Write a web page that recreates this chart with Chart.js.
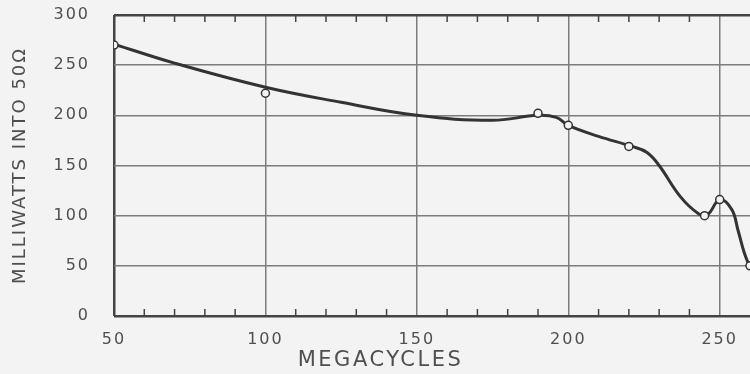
<!DOCTYPE html>
<html>
<head>
<meta charset="utf-8">
<script src="https://cdn.jsdelivr.net/npm/chart.js@4.4.0/dist/chart.umd.min.js"></script>
<style>
  html, body { margin: 0; padding: 0; background: #f3f3f3; }
  canvas { display: block; }
</style>
</head>
<body>
<canvas id="powerChart" width="750" height="374"></canvas>
<script>
// measured points (circles)
const measuredMc = [50, 100, 190, 200, 220, 245, 250, 260];
const measuredMw = [270, 222, 202, 190, 169, 100, 116, 50];

// faired curve
const curveMc = [50, 70, 100, 125, 150, 175, 190, 196, 200, 210, 221, 226, 230, 237, 243, 246, 250, 254, 256, 258, 260];
const curveMw = [271, 252, 228, 213, 200, 195, 200, 198, 190, 179, 169, 163, 150, 119, 102, 101, 116, 106, 86, 64, 48];

const xLabels = [50, 100, 150, 200, 250];
const yLabels = [0, 50, 100, 150, 200, 250, 300];

const inkColor = '#333333';
const textColor = '#4f4f4f';
const gridColor = '#7c7c7c';
const frameColor = '#444444';

function toPoints(xs, ys) {
    return xs.map(function (x, i) { return { x: x, y: ys[i] }; });
}

// letter spacing is part of canvas state, so put it back before layout and draw
const spacingPlugin = {
    id: 'spacing',
    beforeUpdate(chart) { chart.ctx.letterSpacing = '2px'; },
    beforeDraw(chart) { chart.ctx.letterSpacing = '2px'; }
};

// small inward ticks every 10 Mc on top and bottom edges
const minorTickPlugin = {
    id: 'minorTicks',
    beforeDatasetsDraw(chart) {
        const ctx = chart.ctx;
        const area = chart.chartArea;
        const x = chart.scales.x;
        ctx.save();
        ctx.strokeStyle = frameColor;
        ctx.lineWidth = 1.5;
        for (let v = x.min + 10; v < x.max; v += 10) {
            if (v % 50 === 0) continue;
            const px = x.getPixelForValue(v);
            ctx.beginPath();
            ctx.moveTo(px, area.top);
            ctx.lineTo(px, area.top + 7);
            ctx.moveTo(px, area.bottom);
            ctx.lineTo(px, area.bottom - 7);
            ctx.stroke();
        }
        ctx.restore();
    }
};

// x title sits off-centre in the original, under ~138 Mc
const xTitlePlugin = {
    id: 'xTitle',
    afterDraw(chart) {
        const ctx = chart.ctx;
        const x = chart.scales.x;
        ctx.save();
        ctx.font = '21px "DejaVu Sans"';
        ctx.letterSpacing = '2.5px';
        ctx.fillStyle = textColor;
        ctx.textAlign = 'center';
        ctx.textBaseline = 'middle';
        ctx.fillText('MEGACYCLES', x.getPixelForValue(138), 361);
        ctx.restore();
    }
};

const config = {
    type: 'scatter',
    data: {
        datasets: [
            {
                label: 'measured',
                data: toPoints(measuredMc, measuredMw),
                showLine: false,
                pointRadius: 4,
                pointBorderWidth: 1.5,
                pointBorderColor: inkColor,
                pointBackgroundColor: '#f3f3f3',
                order: 0
            },
            {
                label: 'curve',
                data: toPoints(curveMc, curveMw),
                showLine: true,
                borderColor: inkColor,
                borderWidth: 3,
                pointRadius: 0,
                tension: 0.4,
                order: 1
            }
        ]
    },
    options: {
        responsive: false,
        animation: false,
        events: [],
        layout: { autoPadding: false, padding: { top: 15, right: 0, left: 0, bottom: 0 } },
        plugins: {
            legend: { display: false },
            tooltip: { enabled: false }
        },
        scales: {
            x: {
                type: 'linear',
                min: 50,
                max: 260,
                afterBuildTicks: function (scale) {
                    scale.ticks = xLabels.map(function (v) { return { value: v }; });
                },
                afterFit: function (scale) {
                    scale.height = 58;
                    scale.paddingLeft = 0;
                    scale.paddingRight = 0;
                },
                border: { display: false },
                grid: {
                    drawTicks: false,
                    color: function (c) { return c.tick && c.tick.value === 50 ? frameColor : gridColor; },
                    lineWidth: function (c) { return c.tick && c.tick.value === 50 ? 2.5 : 1.5; }
                },
                ticks: {
                    autoSkip: false,
                    maxRotation: 0,
                    padding: 14,
                    color: textColor,
                    font: { family: 'DejaVu Sans', size: 16 }
                }
            },
            y: {
                min: 0,
                max: 300,
                afterBuildTicks: function (scale) {
                    scale.ticks = yLabels.map(function (v) { return { value: v }; });
                },
                afterFit: function (scale) {
                    scale.width = 114;
                    scale.paddingTop = 0;
                    scale.paddingBottom = 0;
                },
                border: { display: false },
                grid: {
                    drawTicks: false,
                    color: function (c) {
                        const v = c.tick && c.tick.value;
                        return v === 0 || v === 300 ? frameColor : gridColor;
                    },
                    lineWidth: function (c) {
                        const v = c.tick && c.tick.value;
                        return v === 0 || v === 300 ? 2.5 : 1.5;
                    }
                },
                ticks: {
                    padding: 24,
                    color: textColor,
                    font: { family: 'DejaVu Sans', size: 16 }
                },
                title: {
                    display: true,
                    text: 'MILLIWATTS INTO 50Ω',
                    color: textColor,
                    font: { family: 'DejaVu Sans', size: 18 },
                    padding: { top: 10, bottom: 0 }
                }
            }
        }
    },
    plugins: [spacingPlugin, minorTickPlugin, xTitlePlugin]
};

window.onload = function () {
    const ctx = document.getElementById('powerChart').getContext('2d');
    new Chart(ctx, config);
};
</script>
</body>
</html>
